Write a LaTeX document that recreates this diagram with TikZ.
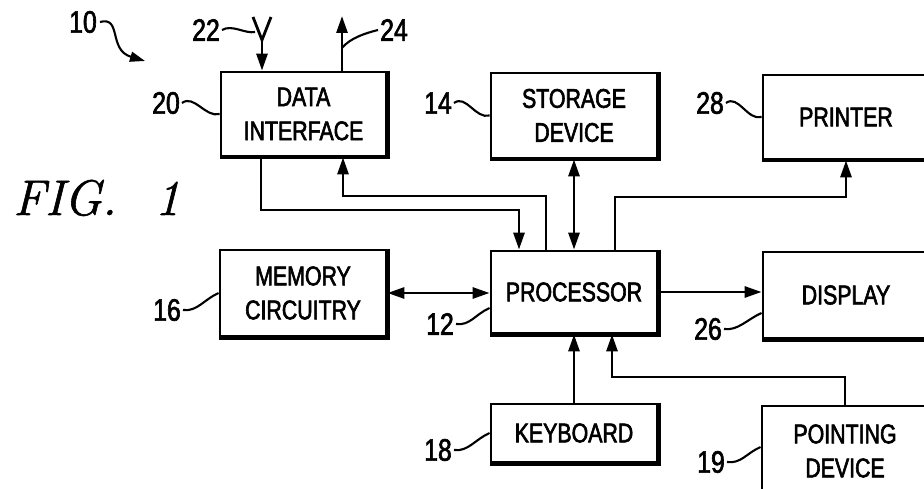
\documentclass[tikz,border=0pt]{standalone}
\usepackage{fontspec}
\newfontfamily\bxfont{Liberation Sans}[FakeStretch=0.79,FakeBold=2.2]
\newfontfamily\nmfont{Liberation Sans}[FakeStretch=0.80,FakeBold=2.0]
\newfontfamily\figfont{Latin Modern Roman}[FakeBold=1.2]
\usetikzlibrary{arrows.meta}
\begin{document}
\begin{tikzpicture}[x=1pt,y=-1pt,
  tip/.tip={Triangle[length=17pt,width=11pt]},
  box/.style={draw, line width=2.8pt, align=center, inner sep=2pt,
    font=\bxfont\fontsize{27}{34}\selectfont},
  num/.style={inner sep=0pt, font=\nmfont\fontsize{31}{34}\selectfont},
  conn/.style={line width=2.8pt},
  lead/.style={line width=2.1pt}]
\clip (0,0) rectangle (924,489);
\useasboundingbox (0,0) rectangle (924,489);

% boxes
\node[box, minimum width=165, minimum height=84] (di)   at (303.5,114) {DATA\\INTERFACE};
\node[box, minimum width=166, minimum height=85] (sd)   at (574,115.5) {STORAGE\\DEVICE};
\node[box, minimum width=166, minimum height=84] (pr)   at (846,117)   {PRINTER};
\node[box, minimum width=166, minimum height=86] (mem)  at (303,293)   {MEMORY\\CIRCUITRY};
\node[box, minimum width=166, minimum height=82] (proc) at (574,292)   {PROCESSOR};
\node[box, minimum width=166, minimum height=86] (disp) at (846,295)   {DISPLAY};
\node[box, minimum width=166, minimum height=58] (kb)   at (574,433)   {KEYBOARD};
\node[box, minimum width=166, minimum height=90] (pd)   at (845,451)   {POINTING\\DEVICE};

% heavier bottom/right edges
\foreach \n in {di,sd,pr,mem,proc,disp,kb,pd}
  \draw[line width=2.2pt] ([xshift=1pt]\n.north east) -- ([xshift=1pt,yshift=-1pt]\n.south east)
     -- ([yshift=-1pt]\n.south west);

% labels
\node[num] (n10) at (83,22)   {10};
\node[num] (n22) at (206,30)  {22};
\node[num] (n24) at (394,30)  {24};
\node[num] (n20) at (166,103) {20};
\node[num] (n14) at (438,103) {14};
\node[num] (n28) at (710,103) {28};
\node[num] (n16) at (167,310) {16};
\node[num] (n12) at (440,324) {12};
\node[num] (n26) at (708,329) {26};
\node[num] (n18) at (438,450) {18};
\node[num] (n19) at (711,462) {19};
\node[anchor=base west, inner sep=0pt, font=\figfont\fontsize{50}{55}\selectfont\itshape] (fig) at (13,215) {FIG.\hspace{38pt}1};

% figure arrow 10
\draw[lead, -{Triangle[length=15pt,width=10pt]}] ([xshift=3pt]n10.east) .. controls (122,16) and (108,50) .. (145,61);

% antenna 22 and output 24
\coordinate (ant) at (262,40);
\coordinate (antl) at (253,17);
\coordinate (antr) at (271,17);
\draw[conn] (antl) -- (ant) -- (antr);
\draw[conn, -tip] (ant) -- (ant |- di.north);
\coordinate (o24) at (342,16);
\draw[conn, -tip] (o24 |- di.north) -- (o24);

% data interface <-> processor
\coordinate (c1) at (261,210);
\coordinate (c2) at (519,210);
\draw[conn, -tip] (c1 |- di.south) -- (c1) -- (c2) -- (c2 |- proc.north);
\coordinate (c3) at (546,196);
\coordinate (c4) at (343,196);
\draw[conn, -tip] (c3 |- proc.north) -- (c3) -- (c4) -- (c4 |- di.south);

% storage
\draw[conn, tip-tip] (sd.south) -- (sd.south |- proc.north);

% printer
\coordinate (c5) at (615,197);
\draw[conn, -tip] (c5 |- proc.north) -- (c5) -- (c5 -| pr.south) -- (pr.south);

% memory, display
\draw[conn, tip-tip] (mem.east) -- (mem.east -| proc.west);
\draw[conn, -tip] (proc.east) -- (proc.east -| disp.west);

% keyboard
\draw[conn, -tip] (kb.north) -- (kb.north |- proc.south);

% pointing device
\coordinate (c6) at (612,377);
\draw[conn, -tip] (pd.north) |- (c6) -- (c6 |- proc.south);

% leaders
\draw[lead] ([xshift=2pt]n22.east) .. controls +(10,-6) and +(-10,2) .. (255,32);
\draw[lead] (342,48) .. controls +(8,-10) and +(-12,3) .. ([xshift=-2pt]n24.west);
\draw[lead] ([xshift=2pt]n20.east) .. controls +(12,-9) and +(-14,4) .. (di.west);
\draw[lead] ([xshift=2pt]n14.east) .. controls +(12,-9) and +(-14,4) .. (sd.west);
\draw[lead] ([xshift=2pt]n28.east) .. controls +(12,-9) and +(-14,4) .. (pr.west);
\draw[lead] ([xshift=2pt]n16.east) .. controls +(14,2) and +(-14,6) .. (mem.west);
\draw[lead] ([xshift=2pt]n12.east) .. controls +(14,2) and +(-14,6) .. ([yshift=-16pt]proc.west);
\draw[lead] ([xshift=2pt]n26.east) .. controls +(14,2) and +(-14,6) .. ([yshift=-18pt]disp.west);
\draw[lead] ([xshift=2pt]n18.east) .. controls +(14,2) and +(-14,6) .. (kb.west);
\draw[lead] ([xshift=2pt]n19.east) .. controls +(14,2) and +(-14,6) .. ([yshift=4pt]pd.west);
\end{tikzpicture}
\end{document}
